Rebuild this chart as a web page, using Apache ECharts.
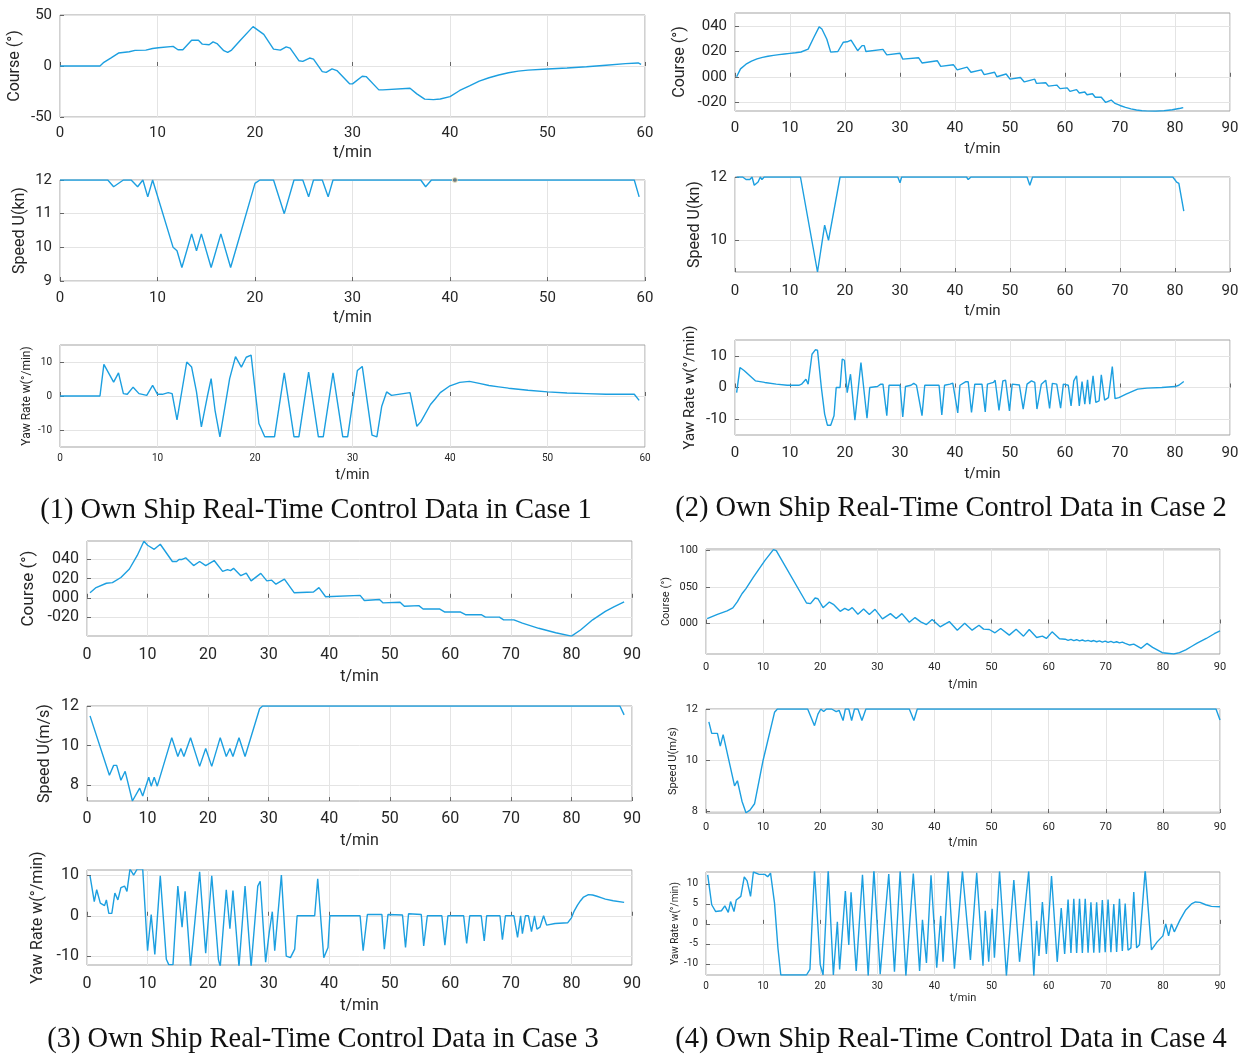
<!DOCTYPE html>
<html><head><meta charset="utf-8">
<script src="https://cdn.jsdelivr.net/npm/echarts@6/dist/echarts.min.js"></script>
<style>html,body{margin:0;padding:0;background:#fff}#chart{width:1248px;height:1056px}</style>
</head><body><div id="chart"></div><script>
// ---- Case 1 (t in min) ----
const course1 = [[0,0],[4.1,0],[4.5,3.6],[5.2,7.8],[6.0,12.7],[6.2,13.3],[7.1,14],[7.7,15.3],[8.8,15.6],[9.5,17.2],[10.1,17.9],[11.6,19.2],[12.1,15.9],[12.6,15.9],[13.5,25.3],[14.2,25.3],[14.6,21.4],[15.3,20.8],[15.7,23.7],[16.1,22],[16.8,15],[17.2,13.3],[17.6,15.6],[18.5,25.3],[19.8,38.6],[20.0,38.6],[20.9,31],[21.9,16.6],[22.6,15.6],[23.2,18.8],[23.6,17.5],[24.5,5.2],[24.9,4.5],[25.6,7.8],[26.0,6.8],[26.9,-5.5],[27.3,-6.2],[27.9,-2.9],[28.4,-4.5],[29.7,-17.5],[30.0,-17.5],[31.0,-10],[31.4,-10.4],[32.7,-23.4],[33.1,-23.4],[35.9,-21.8],[36.6,-27.3],[37.4,-32.5],[38.3,-33],[39,-32.3],[40,-30],[41,-24],[42,-19.5],[43,-14.8],[44,-11.5],[45,-8.8],[46,-6.6],[47,-5],[48,-4],[50,-3],[52,-2],[54,-0.7],[56,0.8],[58,2.3],[59.3,3],[59.6,1.5]];
const speed1 = [[0,12],[4.9,12],[5.5,11.8],[6.5,12],[7.3,12],[7.96,11.8],[8.5,12],[9.0,11.5],[9.5,12],[11.6,10],[12.0,9.9],[12.5,9.4],[13.5,10.4],[14.0,9.9],[14.5,10.4],[15.5,9.4],[16.5,10.4],[17.5,9.4],[20.0,11.9],[20.5,12],[21.9,12],[23.0,11],[24.0,12],[24.9,12],[25.5,11.5],[26.0,12],[26.9,12],[27.5,11.5],[28.0,12],[37.0,12],[37.5,11.8],[38.1,12],[58.9,12],[59.4,11.5]];
const speed1Mark = [[40.5,12]];
const yaw1 = [[0,0],[4.1,0],[4.5,9.3],[5.5,4.1],[6.0,6.8],[6.5,0.7],[6.9,0.5],[7.5,2.6],[8.1,0.7],[8.9,0.2],[9.5,3.1],[10.0,0.5],[10.5,0.5],[11.1,1],[11.5,0.7],[12.0,-7],[13.0,10],[13.5,8.5],[14.0,1.2],[14.5,-9.1],[15.1,-0.3],[15.5,5.1],[15.9,-4.2],[16.4,-12],[17.4,5.1],[18.0,11.6],[18.6,8.5],[19.1,11.4],[19.6,12],[20.4,-8.1],[21.0,-12],[22.0,-12],[23.0,6.8],[24.0,-12],[24.5,-12],[25.5,7],[26.5,-12],[27.0,-12],[28.0,6.8],[29.0,-12],[29.5,-12],[30.5,7.5],[31.0,8.7],[32.0,-11.5],[32.5,-12],[33.0,-3],[33.5,1.2],[34.0,0.2],[35.9,1],[36.6,-8.9],[37.0,-7.6],[38.0,-2.5],[38.5,-0.8],[39,1],[40,3],[41,4],[42,4.3],[43,3.7],[44,3.1],[45,2.7],[46,2.3],[48,1.7],[50,1.2],[52,0.9],[54,0.7],[56,0.5],[58.9,0.5],[59.4,-1.3]];

// ---- Case 2 ----
const course2 = [[0.3,0],[1,6.3],[2,10],[3,12.5],[4,14.2],[5,15.4],[6,16.3],[7,17],[8,17.6],[9,18.1],[10,18.6],[11,19.1],[12,19.7],[13.3,22],[14.3,31],[15.3,39.7],[15.8,38],[16.7,29.8],[17.4,19.6],[18.7,20.1],[19.7,27.5],[20.4,27.8],[21.1,29.2],[22.3,20.7],[23.1,24.8],[23.5,24.8],[23.8,20.1],[26.9,21.8],[27.6,17.4],[30.0,18.7],[30.5,14],[33.4,15.1],[34.0,11],[36.8,12.7],[37.4,8.3],[39.7,9.6],[40.4,5.5],[42.2,7.7],[42.9,3.6],[44.8,5.5],[45.3,1.7],[47.2,3.6],[47.6,0],[49.3,2.2],[50.0,-1.9],[51.9,-0.6],[52.6,-4.1],[54.5,-1.9],[54.8,-5.2],[56.5,-4.7],[57.0,-7.4],[58.5,-6.6],[59.1,-9.4],[60.4,-8.8],[60.9,-11.6],[62.1,-10.2],[62.6,-12.9],[63.6,-12.1],[64.0,-14.3],[65.0,-13.5],[65.5,-16.3],[66.6,-16.3],[67.4,-20.4],[68.4,-18.5],[69.1,-21.2],[70,-22.8],[71,-24.3],[72,-25.5],[73,-26.4],[74,-27],[75,-27.3],[76.5,-27.4],[78,-27],[79.5,-26.2],[81,-25],[81.5,-24.5]];
const speed2 = [[0.3,12],[1.4,12],[2.0,11.92],[2.7,11.92],[3.1,12],[3.5,11.74],[4.2,11.84],[4.6,12],[4.9,11.92],[5.3,12],[11.9,12],[15.0,9.0],[16.3,10.48],[17.0,10.0],[19.1,12],[29.6,12],[30.0,11.82],[30.3,12],[42.1,12],[42.4,11.92],[42.9,12],[53.1,12],[53.6,11.74],[54.1,12],[79.6,12],[80.3,11.84],[80.7,11.8],[81.6,10.92]];
const yaw2 = [[0.3,-1.6],[0.9,6.3],[1.7,5.3],[2.7,3.7],[3.7,2.1],[5.4,1.6],[7.5,1.05],[9.5,0.7],[11.6,0.7],[12.1,1.05],[12.9,2.6],[13.3,1.05],[14.0,10.5],[14.6,11.9],[15.0,11.8],[15.7,0],[16.3,-8.4],[16.8,-11.9],[17.4,-11.9],[18.0,-8.9],[18.4,0],[19.1,0],[19.5,9],[19.9,8.6],[20.4,-1.6],[21.0,4.2],[21.8,-10.3],[22.9,7.9],[24.0,-9.7],[24.5,0],[25.9,0.3],[26.5,1.05],[26.9,1.05],[27.6,-8.9],[28.0,0.7],[30.0,0.7],[30.5,-9.3],[31.0,0.3],[32.0,0.7],[32.5,1.3],[33.0,0.7],[34.0,-8.9],[34.5,0.7],[37.1,0.7],[37.6,-8.7],[38.1,0.7],[39.1,1.05],[39.6,1.4],[40.5,-8],[40.9,0.7],[41.9,1.8],[42.4,1.8],[43.0,-7.9],[43.6,1.05],[44.9,1.05],[45.5,-7.7],[45.9,1.05],[47.0,1.6],[47.3,2.3],[48.0,-7.2],[48.7,2.1],[49.2,2.3],[49.9,-7.4],[50.4,1.05],[51.7,0.8],[52.4,-6.8],[53.1,1.05],[53.9,2.1],[54.5,1.6],[54.9,-6.8],[55.7,1.05],[56.5,2.3],[57.2,-6.6],[57.7,1.3],[58.5,1.05],[59.2,-6.5],[59.7,1.05],[60.6,0.7],[61.1,-5.8],[61.6,2.1],[62.1,3.7],[62.6,-5.8],[63.1,1.9],[63.6,-5.3],[64.1,2.4],[64.5,-5.3],[65.1,3.7],[65.6,-4.7],[66.2,-4.2],[66.6,4],[67.2,-4],[67.9,-3.2],[68.6,6.6],[69.1,-3.5],[69.8,-3.2],[71.1,-2.1],[73.2,-0.5],[74.9,-0.2],[77.6,0],[80.0,0.3],[80.7,0.7],[81.6,1.9]];

// ---- Case 3 ----
const course3 = [[0.5,5.3],[1.5,10.6],[3.2,15.1],[4.2,15.8],[5.6,21.1],[7.0,29.9],[8.3,44],[9.4,58.8],[10.0,54.6],[11.1,50.4],[12.1,55.6],[12.4,54.6],[14.1,37.7],[14.8,37.7],[15.2,39.8],[15.7,39.8],[16.3,41.5],[17.6,33.5],[18.6,37.7],[19.6,33.5],[21.0,38.7],[22.4,27.5],[23.2,29.2],[23.7,28.2],[24.2,30.6],[25.4,22.9],[26.3,25.7],[27.1,17.6],[28.7,25.4],[29.7,17.6],[30.5,18.3],[31.2,14.1],[32.6,19.4],[34.2,5.3],[37.4,6],[38.3,10.6],[39.4,1.1],[45.1,2.5],[45.8,-2.8],[48.3,-1.8],[48.9,-5.3],[51.7,-4.6],[52.4,-8.8],[54.8,-8.1],[55.5,-11.6],[58.2,-11.6],[59.1,-14.8],[61.7,-14.8],[62.5,-17.6],[65.1,-17.6],[65.8,-20.1],[68.1,-20.1],[68.8,-22.9],[70.5,-22.9],[71.9,-26.4],[74.6,-31.7],[77.4,-36.3],[80.0,-39.8],[81.5,-33.5],[83.5,-22.9],[85.6,-14.1],[87,-9.5],[88.7,-4.2]];
const speed3 = [[0.5,11.5],[3.7,8.5],[4.4,9.0],[4.9,9.0],[5.6,8.25],[6.3,8.7],[7.5,7.2],[8.7,7.85],[9.2,7.45],[10.2,8.4],[10.6,7.95],[11.1,8.4],[11.6,7.95],[14.0,10.4],[15.0,9.45],[15.5,9.85],[16.0,9.45],[17.1,10.4],[18.6,8.95],[19.6,9.85],[20.6,8.95],[22.0,10.4],[23.0,9.45],[23.6,9.85],[24.1,9.45],[25.1,10.4],[26.1,9.45],[28.5,11.86],[29.0,12],[88.0,12],[88.7,11.55]];
const yaw3 = [[0.5,9.8],[1.2,3.5],[1.6,6.4],[2.2,3.1],[2.9,2.5],[3.2,3.9],[3.6,0.6],[4.1,0.6],[4.6,5.6],[5.1,3.9],[5.6,6.9],[6.2,7.3],[6.6,6.0],[7.1,11.5],[7.7,10],[8.3,11.5],[9.2,11.5],[10.0,-8.6],[10.6,0.3],[11.2,-9.5],[12.1,9.8],[13.1,-10.7],[13.5,-12],[14.2,-12],[15.0,7.3],[15.7,-2.8],[16.2,6.0],[17.1,-12.5],[18.6,10.8],[19.6,-9.2],[20.6,9.8],[21.7,-10.7],[22.0,-12.5],[23.0,6.4],[23.6,-3.2],[24.1,6.2],[25.1,-12.5],[26.1,7.3],[27.1,-12.5],[28.2,7.3],[28.6,8.5],[29.5,-11.4],[30.1,-4],[30.6,1],[31.0,-8.6],[32.1,10],[32.9,-9.9],[33.6,-10.3],[34.3,-8.2],[34.7,0],[37.6,0],[38.1,9.1],[39.1,-10.3],[39.8,-7.8],[40.1,0],[45.1,0],[45.6,-8.6],[46.3,0.3],[48.7,0.3],[49.1,-8.2],[49.7,0.3],[52.1,0.2],[52.6,-7.8],[53.1,0.5],[55.2,0.3],[55.6,-7.4],[56.2,0],[58.6,0],[59.1,-7.2],[59.6,0],[62.2,0],[62.7,-6.8],[63.2,0],[65.1,0],[65.6,-6.2],[66.0,0],[68.2,0],[68.6,-5.9],[69.1,0],[70.5,0],[71.1,-5.3],[71.6,0],[71.9,-4.4],[72.4,0],[72.9,0],[73.4,-3.9],[73.9,0],[74.3,-3.3],[74.8,-2.8],[75.4,0],[75.9,-2.3],[77.3,-1.9],[79.4,-1.7],[80,-0.5],[80.4,1],[81,2.6],[81.5,3.7],[82,4.6],[82.8,5.2],[83.5,5.1],[84.2,4.8],[85,4.4],[85.6,4.1],[86.9,3.7],[88.7,3.3]];

// ---- Case 4 ----
const course4 = [[0.2,6.8],[2.0,12.7],[3.7,17.3],[4.7,21.4],[5.5,30],[6.3,40.9],[7,48],[8.3,63.6],[10.3,86.4],[11.8,101.4],[12.3,100],[17.6,28.2],[18.3,27.3],[19.1,35],[19.6,34],[20.5,21.8],[21.6,29.5],[22.3,26.4],[23.5,16.8],[24.3,20.9],[24.97,18.2],[25.6,21.8],[26.6,12.7],[27.6,20],[28.6,12.3],[29.6,19.5],[30.9,6.4],[32.3,13.6],[33.3,6.8],[34.3,13.6],[35.6,1.8],[36.6,8.2],[37.6,2.3],[38.6,-1.4],[39.6,5.5],[41.0,-4.5],[42.6,2.7],[44.0,-9.1],[45.3,0.5],[46.6,-9.1],[47.8,-2.3],[48.6,-7.7],[49.6,-8.2],[50.6,-12.7],[51.6,-6.8],[53.1,-15.9],[54.3,-7.7],[55.6,-17.3],[56.6,-8.2],[57.9,-19.1],[58.9,-17.3],[59.6,-20.5],[60.6,-11.4],[61.9,-20.9],[62.9,-21.5],[63.4,-23],[63.9,-21.8],[64.4,-23.5],[64.9,-22.2],[65.4,-23.8],[65.9,-22.6],[66.4,-24.2],[66.9,-23],[67.4,-24.6],[67.9,-23.3],[68.4,-25],[68.9,-23.7],[69.4,-25.4],[69.9,-24.1],[70.4,-25.8],[70.9,-24.5],[71.4,-26.2],[71.9,-25],[72.4,-26.6],[72.9,-25.5],[73.4,-27.2],[74.2,-29.5],[74.9,-28.2],[76.2,-34],[77.2,-27.3],[78.2,-32.7],[79.9,-40],[81.9,-41.8],[82.9,-40],[84,-36],[85,-31.5],[86,-27],[87.6,-20.5],[89,-14],[90,-10]];
const speed4 = [[0.5,11.5],[1.0,11.05],[2.0,11.05],[2.5,10.55],[3.0,11],[5.0,9.0],[5.5,9.2],[6.3,8.4],[7.0,7.95],[7.7,8.05],[8.5,8.3],[10.0,10.0],[12.0,11.87],[12.5,12],[17.8,12],[19.0,11.35],[19.6,11.8],[20.1,12],[20.6,11.9],[21.1,12],[22.0,12],[22.8,11.9],[23.3,11.95],[24.0,11.55],[24.4,12],[25.0,12],[25.5,11.55],[26.0,12],[26.6,12],[27.3,11.55],[28.0,12],[35.6,12],[36.4,11.55],[37.0,12],[89.3,12],[90.0,11.57]];
const yaw4 = [[0.3,12.3],[1.0,4.8],[1.7,3.1],[2.7,3.3],[3.3,4.5],[3.9,2.9],[4.3,5.6],[4.9,3.1],[5.3,6],[6.1,6.9],[6.7,11.8],[7.2,10.8],[7.8,6.9],[8.3,13],[9.3,12.4],[10.3,12.4],[10.8,11.8],[11.3,12.7],[12.0,5.2],[12.6,-6.1],[13.1,-12.8],[17.6,-12.8],[18.2,-11.4],[19.0,13.5],[20.0,-10.2],[20.5,-12.8],[21.4,13.5],[22.3,-12.8],[23.0,0.5],[23.4,-11.4],[24.4,8.2],[25.0,-5.3],[25.4,7.9],[26.3,-11.8],[27.4,12.3],[28.4,-13],[29.4,13.5],[30.5,-12.6],[32.0,12.5],[33.0,-12],[34.0,13.2],[35.0,-13],[36.3,12.6],[37.4,-11.8],[37.9,1],[38.6,-9.8],[39.4,12.2],[40.4,-11],[41.1,2],[41.5,-9.5],[42.4,13.2],[43.5,-11.2],[44.9,13.2],[46.3,-9],[47.4,12.8],[48.5,-10.5],[48.9,3.3],[49.5,-9.5],[50.1,3.8],[50.5,-8.5],[51.4,13.2],[52.6,-13],[53.9,11],[54.9,-9.5],[56.5,13.2],[57.4,-13],[57.9,0.8],[58.3,-8],[58.9,5.5],[59.6,-7.5],[60.5,12],[61.5,-9.5],[62.2,4],[62.8,-7.5],[63.4,6.1],[63.9,-7.3],[64.4,6.3],[64.9,-7.3],[65.4,6.3],[65.9,-7.3],[66.4,6.3],[66.9,-7.2],[67.4,5.4],[67.9,-7.2],[68.4,5.4],[68.9,-7.2],[69.4,6],[69.9,-7.1],[70.4,6.1],[70.9,-7.1],[71.4,5],[71.9,-7],[72.4,6.3],[72.9,-6.8],[73.4,5.1],[73.9,-6.6],[74.4,-6],[74.9,8],[75.4,-6],[75.9,-5.2],[76.9,13.5],[78,-6.5],[79,-4.5],[80,-3],[80.5,0],[81,-3],[81.5,0],[82,-2],[82.5,-0.5],[83,1],[84,3.5],[85,5],[85.7,5.5],[86.5,5.4],[87.5,4.8],[88.5,4.4],[90,4.3]];

// Tick values per axis
const ticksCourse1 = [-50, 0, 50];
const ticksSpeed1 = [9, 10, 11, 12];
const ticksYaw = [-10, 0, 10];
const ticksCourse2 = [-20, 0, 20, 40];
const ticksSpeed2 = [10, 12];
const ticksSpeed34 = [8, 10, 12];
const ticksCourse4 = [0, 50, 100];
const ticksYaw4 = [-10, -5, 0, 5, 10];

const captions = [
  '(1) Own Ship Real-Time Control Data in Case 1',
  '(2) Own Ship Real-Time Control Data in Case 2',
  '(3) Own Ship Real-Time Control Data in Case 3',
  '(4) Own Ship Real-Time Control Data in Case 4'
];

const SANS = 'Roboto, "Liberation Sans", Arial, sans-serif';
const SERIF = '"Liberation Serif", "Times New Roman", serif';
const LINE = '#1c9fe0';
const TXT = '#262626';

const pad3 = v => (v < 0 ? '-' : '') + String(Math.abs(v)).padStart(3, '0');
const plain = v => String(v);

// one entry per subplot: series data, box [left, top, width, height], ranges and text sizes
const plots = [
  {d: course1, n: 'Course (°)', b: [60, 15, 585, 102], xm: 60, y: [-50, 50], t: ticksCourse1, f: plain, tf: 15, nf: 16, xf: 16, yg: 37, xg: 28, lm: 9},
  {d: speed1, n: 'Speed U(kn)', b: [60, 180, 585, 101], xm: 60, y: [9, 12], t: ticksSpeed1, f: plain, tf: 15, nf: 16, xf: 16, yg: 32, xg: 29, lm: 10},
  {d: yaw1, n: 'Yaw Rate w(°/min)', b: [60, 345, 585, 102], xm: 60, y: [-15, 15], t: ticksYaw, f: plain, tf: 10, nf: 12, xf: 14, yg: 27, xg: 21, lm: 6},
  {d: course2, n: 'Course (°)', b: [735, 13, 495, 98], xm: 90, y: [-27.2, 50.7], t: ticksCourse2, f: pad3, tf: 15, nf: 16, xf: 15, yg: 47, xg: 31, lm: 10},
  {d: speed2, n: 'Speed U(kn)', b: [735, 177, 495, 95], xm: 90, y: [9, 12], t: ticksSpeed2, f: plain, tf: 15, nf: 16, xf: 15, yg: 32, xg: 32, lm: 12},
  {d: yaw2, n: 'Yaw Rate w(°/min)', b: [735, 340, 495, 95], xm: 90, y: [-15, 15], t: ticksYaw, f: plain, tf: 15, nf: 15, xf: 15, yg: 37, xg: 32, lm: 11},
  {d: course3, n: 'Course (°)', b: [87, 541, 545, 95], xm: 90, y: [-39.7, 59], t: ticksCourse2, f: pad3, tf: 16, nf: 17, xf: 16, yg: 50, xg: 33, lm: 11},
  {d: speed3, n: 'Speed U(m/s)', b: [87, 706, 545, 95], xm: 90, y: [7.2, 12], t: ticksSpeed34, f: plain, tf: 16, nf: 16, xf: 16, yg: 34, xg: 32, lm: 10},
  {d: yaw3, n: 'Yaw Rate w(°/min)', b: [87, 870, 545, 95], xm: 90, y: [-12.1, 11.25], t: ticksYaw, f: plain, tf: 16, nf: 16, xf: 16, yg: 41, xg: 33, lm: 11},
  {d: course4, n: 'Course (°)', b: [706, 549, 514, 105], xm: 90, y: [-41.8, 102.3], t: ticksCourse4, f: pad3, tf: 11, nf: 11, xf: 12, yg: 34, xg: 25, lm: 8},
  {d: speed4, n: 'Speed U(m/s)', b: [706, 709, 514, 104], xm: 90, y: [7.94, 12], t: ticksSpeed34, f: plain, tf: 11, nf: 11, xf: 12, yg: 27, xg: 24, lm: 9},
  {d: yaw4, n: 'Yaw Rate w(°/min)', b: [706, 872, 514, 103], xm: 90, y: [-12.8, 13], t: ticksYaw4, f: plain, tf: 10, nf: 10, xf: 11, yg: 25, xg: 18, lm: 6}
];

const grid = [], xAxis = [], yAxis = [], series = [];
plots.forEach((p, i) => {
  grid.push({left: p.b[0], top: p.b[1], width: p.b[2], height: p.b[3], show: true,
    borderColor: '#a3a3a3', borderWidth: 1, backgroundColor: 'transparent', containLabel: false});
  xAxis.push({type: 'value', gridIndex: i, min: 0, max: p.xm, interval: 10,
    name: 't/min', nameLocation: 'middle', nameGap: p.xg,
    nameTextStyle: {fontFamily: SANS, fontSize: p.xf, color: TXT},
    axisLine: {show: false},
    axisTick: {show: true, inside: true, length: 4, lineStyle: {color: '#666'}},
    axisLabel: {fontFamily: SANS, fontSize: p.tf, color: TXT, margin: p.lm, showMinLabel: true, showMaxLabel: true},
    splitLine: {show: true, lineStyle: {color: '#e4e4e4', width: 1}}});
  yAxis.push({type: 'value', gridIndex: i, min: p.y[0], max: p.y[1],
    name: p.n, nameLocation: 'middle', nameRotate: 90, nameGap: p.yg,
    nameTextStyle: {fontFamily: SANS, fontSize: p.nf, color: TXT},
    axisLine: {show: false},
    axisTick: {show: true, inside: true, length: 4, customValues: p.t, lineStyle: {color: '#666'}},
    axisLabel: {fontFamily: SANS, fontSize: p.tf, color: TXT, margin: 8, customValues: p.t, formatter: p.f},
    splitLine: {show: true, lineStyle: {color: '#e4e4e4', width: 1}}});
  series.push({type: 'line', xAxisIndex: i, yAxisIndex: i, data: p.d, showSymbol: false,
    clip: true, lineStyle: {color: LINE, width: 1.4}, itemStyle: {color: LINE}, z: 3});
});
series.push({type: 'scatter', xAxisIndex: 1, yAxisIndex: 1, data: speed1Mark, symbolSize: 5,
  itemStyle: {color: '#6b6b6b', borderColor: '#f3ecc0', borderWidth: 1}, z: 4});

const capPos = [[316, 511], [951, 509], [323, 1040], [951, 1040]];
const graphic = captions.map((c, i) => ({type: 'text', x: capPos[i][0], y: capPos[i][1],
  style: {text: c, font: '28.5px ' + SERIF, fill: '#111', textAlign: 'center', textVerticalAlign: 'middle'}}));

const chart = echarts.init(document.getElementById('chart'), null, {renderer: 'canvas'});
chart.setOption({animation: false, backgroundColor: '#fff', grid, xAxis, yAxis, series, graphic});
</script></body></html>
